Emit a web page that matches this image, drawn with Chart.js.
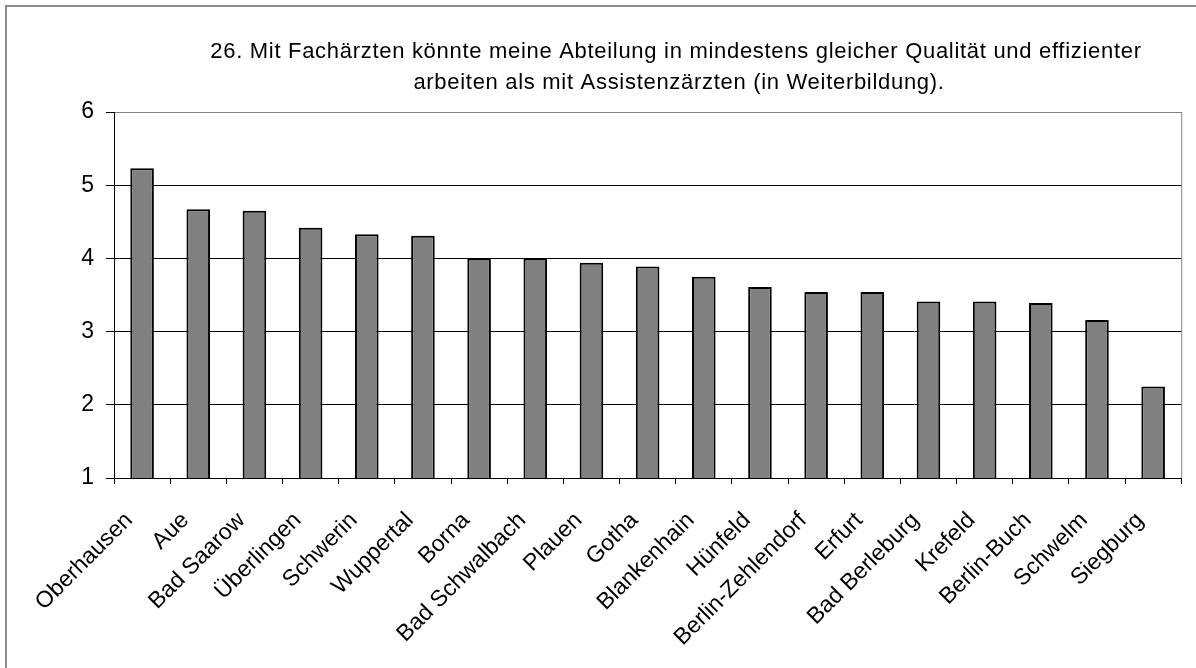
<!DOCTYPE html>
<html>
<head>
<meta charset="utf-8">
<script src="https://cdn.jsdelivr.net/npm/chart.js@4"></script>
<style>
  html, body { margin: 0; padding: 0; background: #fff; overflow: hidden; }
  #frame { position: absolute; left: 5px; top: 5px; width: 1200px; height: 700px; border: 2px solid #8c8c8c; box-sizing: border-box; }
  #wrap { position: absolute; left: 0; top: 0; width: 1196px; height: 668px; }
</style>
</head>
<body>
<div id="frame"></div>
<div id="wrap"><canvas id="chart"></canvas></div>
<script>
// data
const titleLines = [
    "26. Mit Fachärzten könnte meine Abteilung in mindestens gleicher Qualität und effizienter",
    "arbeiten als mit Assistenzärzten (in Weiterbildung)."
];
const hospitals = [
    "Oberhausen", "Aue", "Bad Saarow", "Überlingen", "Schwerin", "Wuppertal",
    "Borna", "Bad Schwalbach", "Plauen", "Gotha", "Blankenhain", "Hünfeld",
    "Berlin-Zehlendorf", "Erfurt", "Bad Berleburg", "Krefeld", "Berlin-Buch",
    "Schwelm", "Siegburg"
];
const scores = [
    5.23, 4.67, 4.65, 4.42, 4.33, 4.31,
    4.00, 4.00, 3.94, 3.89, 3.75, 3.61,
    3.54, 3.54, 3.41, 3.41, 3.39,
    3.16, 2.25
];
const yTicks = [1, 2, 3, 4, 5, 6];

const FONT = 'Arial, "Liberation Sans", sans-serif';

// plot frame (gray top/right) + two-line title
const framePlugin = {
    id: 'framePlugin',
    beforeDraw(chart) {
        const a = chart.chartArea;
        const ctx = chart.ctx;
        ctx.save();
        ctx.strokeStyle = '#808080';
        ctx.lineWidth = 1;
        ctx.strokeRect(a.left + 0.5, a.top + 0.5, a.right - a.left, a.bottom - a.top);
        ctx.restore();
    },
    afterDraw(chart) {
        const ctx = chart.ctx;
        ctx.save();
        ctx.fillStyle = '#000';
        ctx.font = '22px ' + FONT;
        if ('letterSpacing' in ctx) ctx.letterSpacing = '0.7px';
        ctx.textAlign = 'center';
        ctx.textBaseline = 'alphabetic';
        ctx.fillText(titleLines[0], 676, 58);
        ctx.fillText(titleLines[1], 679, 89);
        ctx.restore();
    }
};

new Chart(document.getElementById('chart'), {
    type: 'bar',
    data: {
        labels: hospitals,
        datasets: [{
            data: scores,
            backgroundColor: '#808080',
            borderColor: '#000',
            borderWidth: 2,
            barPercentage: 0.42,
            categoryPercentage: 1
        }]
    },
    options: {
        responsive: true,
        maintainAspectRatio: false,
        animation: false,
        layout: { padding: { left: 0, right: 13, top: 112, bottom: 0 } },
        plugins: {
            legend: { display: false },
            tooltip: { enabled: false },
            title: { display: false }
        },
        scales: {
            x: {
                afterFit: s => { s.height = 190; },
                grid: {
                    offset: true,
                    drawOnChartArea: false,
                    drawTicks: true,
                    tickLength: 6,
                    color: '#000'
                },
                border: { color: '#000', width: 1 },
                ticks: {
                    autoSkip: false,
                    maxRotation: 45,
                    minRotation: 45,
                    padding: 23,
                    labelOffset: -13,
                    color: '#000',
                    font: { family: FONT, size: 23 }
                }
            },
            y: {
                min: 1,
                max: 6,
                afterFit: s => { s.width = 114; },
                afterBuildTicks: s => { s.ticks = yTicks.map(v => ({ value: v })); },
                grid: {
                    color: ctx => (ctx.tick && ctx.tick.value === 6) ? '#808080' : '#000',
                    tickColor: '#000',
                    tickLength: 8,
                    drawTicks: true
                },
                border: { color: '#000', width: 1 },
                ticks: {
                    padding: 12,
                    color: '#000',
                    font: { family: FONT, size: 23 }
                }
            }
        }
    },
    plugins: [framePlugin]
});
</script>
</body>
</html>
